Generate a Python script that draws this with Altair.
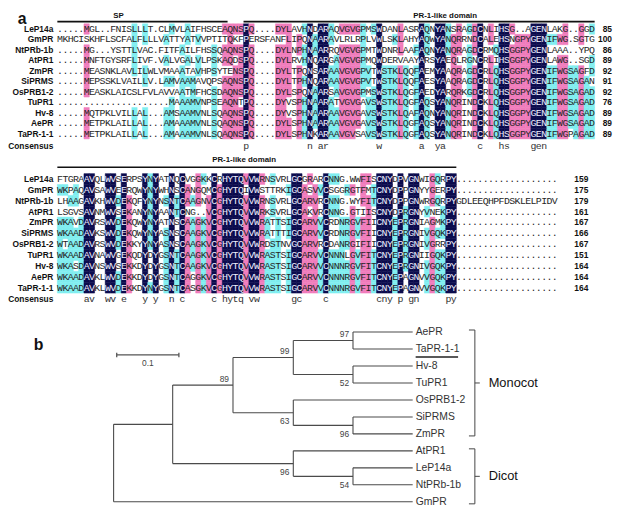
import altair as alt
import pandas as pd
from collections import Counter

# ---------------- data ----------------
seq_names = ["LeP14a", "GmPR", "NtPRb-1b", "AtPR1", "ZmPR", "SiPRMS",
             "OsPRB1-2", "TuPR1", "Hv-8", "AePR", "TaPR-1-1"]

block1_seqs = [
    ".....MGL..FNISLLLT.CLMVLAIFHSCEAQNSPQ....DYLAVHNDARAQVGVGPMSWDANLASRAQNYANSRAGDCNLIHSG..AGENLAKG..GGD",
    "MKHCISKHFLSCFALFLLLVATTYATVVPTITQKFPERSFANFLIPQNAARAVLRLRPLVWLSKLAHYAQWYANQRRNDCALEHSNGPYGENIFWG.SGTG",
    ".....MG...YSTTLVAC.FITFAILFHSSQAQNSPQ....DYLNPHNAARRQVGVGPMTWDNRLAAFAQNYANQRAGDCRMQHSGGPYGENLAAA..YPQ",
    ".....MNFTGYSRFLIVF.VALVGALVLPSKAQDSPQ....DYLRVHNQARGAVGVGPMQWDERVAAYARSYAEQLRGNCRLIHSGGPYGENLAWG..SGD",
    ".....MEASNKLAVLILWLVMAAATAVHPSYTENSPQ....DYLTPQNSARAAVGVGPVTWSTKLQQFAEMYAAQRAGDCRLQHSGGPYGENIFWGSAGFD",
    ".....MEPSSKLVAILLV.LAMVAAMAVQPSAQNSPQ....DYLTPHNQARAAVGVGPVTWSTKLQQFAESYAAQRAGDCRLQHSGGPYGENIFWGSAGAN",
    ".....MEASKLAICSLFVLAVVAATMFHCSDAQNSPQ....DYLSPQNAARSAVGVGPMSWSTKLQGFAEDYARQRKGDCRLQHSGGPYGENIFWGSAGAD",
    ".....................MAAAMVNPSEAQNTPQ....DYVSPHNAARATVGVGAVSWSTKLQGFAQSYANQRINDCKLQHSGGPYGENIFWGSAGAD",
    ".....MQTPKLVILLAL...AMSAAMVNLSQAQNSPQ....DYVSPHNAARAAVGVGAVSWSTKLQAFAQNYANQRINDCKLQHSGGPYGENIFWGSAGAD",
    ".....METPKLAILLAL...AMAAAMVNLSQAQNSPQ....DYLSPHNAARAAVGVGAVSWSTKLQGFAQSYANQRINDCKLQHSGGPYGENIFWGSAGAD",
    ".....METPKLAILLAL...AMAAAMVNLSQAQNSPQ....DYLSPHNKARAAVGVSAVSWSTKLQGFAQSYANQRINDCKLQHSGGPYGENIFWGPAGAD",
]
block1_end = [85, 100, 86, 89, 92, 91, 92, 76, 89, 89, 89]

block2_seqs = [
    "FTGRAAVQLWVSERPSYNYATNQCVGGKKCRHYTQVVWRNSVRLGCGRARCNNG.WWFISCNYDPVGNWIGQRPY",
    "WKPAQAVSAWVEERQWYNYWHNSCANGQMCGHYTQIVWSTTRKIGCASVVCSGGRGTFMTCNYDPPGNYYGERPY",
    "LHAAGAVKHWVDEKQFYNYNSNTCAAGNVCGHYTQVVWRNSVRLGCARVRCNNG.WYFITCNYDPPGNWRGQRPYGDLEEQHPFDSKLELPIDV",
    "LSGVSAVNMWVSEKANYNYAANTCNG..VCGHYTQVVWRKSVRLGCAKVRCNNG.GTIISCNYDPRGNYVNEKPY",
    "WKAVDAVRSWVDEKQWYNYATNSCAAGKVCGHYTQVVWRATTSIGCARVVCRDNRGVFIICNYEPRGNIAGMKPY",
    "WKAADAVKSWVDEKQWYNYASNSCAAGKVCGHYTQVVWRATTTIGCARVVCRDNRGVFIICNYEPRGNIVGQKPY",
    "WTAADAVRSWVDEKKYYNYASNSCAAGKVCGHYTQVVWRDSTNVGCARVRCDANRGIFIICNYEPRGNIVGRRPY",
    "WKAADAVNAWVGEKQDYDYGSNTCAAGKVCGHYTQVVWRASTSIGCARVVCNNNLGVFITCNYEPRGNIIGQKPY",
    "WKASDAVNSWVSEKKDYDYGSNTCAAGKVCGHYTQVVWRASTSIGCARVVCNNNRGVFITCNYEPRGNIVGQKPY",
    "WKAADAVKLWVDEKKDYDYGSNTCAGGKVCGHYTQVVWRASTSIGCARVVCNNNRGVFITCNYEPAGNVVGQKPY",
    "WKAADAVKLWVDEKKDYNYGSNTCASGKVCGHYTQVVWRASTSIGCARVVCNNNRGVFITCNYEPAGNVVGQKPY",
]
block2_end = [159, 175, 179, 161, 167, 166, 167, 151, 164, 164, 164]

block1_domains = ["SP", "PR-1-like domain"]
block1_dom_start = [1, 36]
block1_dom_end = [32, 101]
block2_domains = ["PR-1-like domain"]
block2_dom_start = [1]
block2_dom_end = [75]

leaf_order = ["AePR", "TaPR-1-1", "Hv-8", "TuPR1", "OsPRB1-2", "SiPRMS", "ZmPR",
              "AtPR1", "LeP14a", "NtPRb-1b", "GmPR"]
tree_child = ["A", "GmPR", "B", "H", "C", "F", "D", "E", "AePR", "TaPR-1-1",
              "Hv-8", "TuPR1", "OsPRB1-2", "G", "SiPRMS", "ZmPR", "AtPR1", "I",
              "LeP14a", "NtPRb-1b"]
tree_parent = ["root", "root", "A", "A", "B", "B", "C", "C", "D", "D",
               "E", "E", "F", "F", "G", "G", "H", "H", "I", "I"]
tree_branch = [0.095, 0.481, 0.097, 0.194, 0.097, 0.097, 0.096, 0.096, 0.096, 0.096,
               0.096, 0.096, 0.192, 0.096, 0.096, 0.096, 0.192, 0.096, 0.096, 0.096]
boot_node = ["B", "C", "D", "E", "F", "G", "H", "I"]
boot_value = [89, 99, 97, 52, 63, 96, 96, 54]
highlight_leaf = ["TaPR-1-1"]
clade_name = ["Monocot", "Dicot"]
clade_first = ["AePR", "AtPR1"]
clade_last = ["ZmPR", "GmPR"]
scale_bar_len = 0.1

# ---------------- layout / style ----------------
W = 606
CW = 5.39
COL_X0 = 42.0
XDOM = [0.5 - COL_X0 / CW, 0.5 + (W - COL_X0) / CW]
NAME_X = -0.25
NAVY, PINK, CYAN = "#0c0c4e", "#f07cbc", "#80eef0"
MONO = "Liberation Mono"
SANS = "Liberation Sans"
lvl_scale = alt.Scale(domain=[1, 2, 3], range=[CYAN, PINK, NAVY])


def conservation(seqs):
    n = len(seqs)
    ncol = max(len(s) for s in seqs)
    seqs = [s.ljust(ncol, ".") for s in seqs]
    levels = [[0] * ncol for _ in seqs]
    cons = []
    for c in range(ncol):
        col = [s[c] for s in seqs]
        cnt = Counter(ch for ch in col if ch != ".")
        if not cnt:
            cons.append(" ")
            continue
        res, k = cnt.most_common(1)[0]
        frac = k / n
        lvl = 3 if k == n else (2 if frac >= 0.75 else (1 if frac >= 0.5 else 0))
        for r in range(n):
            if col[r] == res:
                levels[r][c] = lvl
        cons.append(res.lower() if lvl == 3 else " ")
    return seqs, levels, cons


def block_panel(seqs, ends, dnames, dstart, dend, dlabcols, height, top_page,
                row0_page, pitch, num_col, hdr_lab_page, hdr_lab_base,
                hdr_rule_page, cons_page, letter=None):
    def to_row(p):
        return (p - row0_page) / pitch

    xs = alt.Scale(domain=XDOM, nice=False, zero=False)
    ys = alt.Scale(domain=[to_row(top_page), to_row(top_page + height)],
                   nice=False, zero=False, reverse=True)
    seqs, levels, cons = conservation(seqs)
    recs = []
    for r, s in enumerate(seqs):
        for c, ch in enumerate(s):
            recs.append({"row": r, "col": c + 1, "ch": ch, "level": levels[r][c]})
    cells = pd.DataFrame(recs)

    def X(f):
        return alt.X(f, scale=xs, axis=None)

    def Y(f):
        return alt.Y(f, scale=ys, axis=None)

    base = alt.Chart(cells)
    rects = base.transform_filter("datum.level > 0").transform_calculate(
        xa="datum.col - 0.5", xb="datum.col + 0.5",
        ya="datum.row - 0.5", yb="datum.row + 0.5"
    ).mark_rect(strokeWidth=0.5).encode(
        x=X("xa:Q"), x2="xb:Q", y=Y("ya:Q"), y2="yb:Q",
        fill=alt.Fill("level:O", scale=lvl_scale, legend=None),
        stroke=alt.Stroke("level:O", scale=lvl_scale, legend=None),
    )
    letters = base.mark_text(font=MONO, fontSize=10, baseline="middle", align="center").encode(
        x=X("col:Q"), y=Y("row:Q"), text="ch:N",
        color=alt.condition(alt.datum.level == 3, alt.value("#eeeeff"), alt.value("#262626")),
    )

    names_df = pd.DataFrame({"name": seq_names + ["Consensus"],
                             "row": list(range(len(seq_names))) + [to_row(cons_page)],
                             "x": NAME_X})
    names = alt.Chart(names_df).mark_text(font=SANS, fontSize=8.5, fontWeight="bold",
                                          align="right", baseline="middle", color="#111").encode(
        x=X("x:Q"), y=Y("row:Q"), text="name:N")

    nums_df = pd.DataFrame({"n": ends, "row": list(range(len(ends))), "x": num_col})
    nums = alt.Chart(nums_df).mark_text(font=SANS, fontSize=8.5, fontWeight="bold",
                                        align="right", baseline="middle", color="#111").encode(
        x=X("x:Q"), y=Y("row:Q"), text="n:N")

    cons_df = pd.DataFrame({"col": [i + 1 for i, ch in enumerate(cons) if ch != " "],
                            "ch": [ch for ch in cons if ch != " "],
                            "row": to_row(cons_page)})
    cons_txt = alt.Chart(cons_df).mark_text(font=MONO, fontSize=10, baseline="middle",
                                            align="center", color="#333").encode(
        x=X("col:Q"), y=Y("row:Q"), text="ch:N")

    hdr_df = pd.DataFrame({"name": dnames,
                           "xa": [s - 0.5 for s in dstart],
                           "xb": [e + 0.5 for e in dend],
                           "xl": dlabcols,
                           "yr": to_row(hdr_rule_page),
                           "yl": to_row(hdr_lab_page)})
    hdr_rule = alt.Chart(hdr_df).mark_rule(strokeWidth=1.6, color="#111").encode(
        x=X("xa:Q"), x2="xb:Q", y=Y("yr:Q"))
    hdr_lab = alt.Chart(hdr_df).mark_text(font=SANS, fontSize=8, fontWeight="bold",
                                          align="center", baseline=hdr_lab_base, color="#111").encode(
        x=X("xl:Q"), y=Y("yl:Q"), text="name:N")

    layers = [rects, letters, names, nums, cons_txt, hdr_rule, hdr_lab]
    if letter:
        lt = alt.Chart(pd.DataFrame({"t": [letter]})).mark_text(
            font=SANS, fontSize=16, fontWeight="bold", align="left", baseline="top", color="#111"
        ).encode(x=alt.value(2), y=alt.value(0), text="t:N")
        layers.append(lt)
    return alt.layer(*layers).properties(width=W, height=height)


p1 = block_panel(block1_seqs, block1_end, block1_domains, block1_dom_start, block1_dom_end,
                 [12, 73.4], height=144, top_page=8, row0_page=26, pitch=10.6,
                 num_col=0.5 + (604 - COL_X0) / CW, hdr_lab_page=16.8, hdr_lab_base="bottom",
                 hdr_rule_page=18.5, cons_page=145, letter="a")
p2 = block_panel(block2_seqs, block2_end, block2_domains, block2_dom_start, block2_dom_end,
                 [35.6], height=153, top_page=152, row0_page=178, pitch=11.0,
                 num_col=0.5 + (580 - COL_X0) / CW, hdr_lab_page=158.5, hdr_lab_base="middle",
                 hdr_rule_page=166, cons_page=300)

# ---------------- tree ----------------
children = {}
for ch, pa in zip(tree_child, tree_parent):
    children.setdefault(pa, []).append(ch)
blen = dict(zip(tree_child, tree_branch))
parent_of = dict(zip(tree_child, tree_parent))
depth = {}


def set_depth(node, d):
    depth[node] = d
    for c in children.get(node, []):
        set_depth(c, d + blen[c])


set_depth("root", 0.0)
ypos = {leaf: i for i, leaf in enumerate(leaf_order)}


def set_y(node):
    if node in ypos:
        return ypos[node]
    vals = [set_y(c) for c in children[node]]
    ypos[node] = (min(vals) + max(vals)) / 2
    return ypos[node]


set_y("root")

T_TOP, T_H, LEAF0, LPITCH = 305, 205, 333, 17.2
xs3 = alt.Scale(domain=[-99 / 630, (W - 99) / 630], nice=False, zero=False)
ys3 = alt.Scale(domain=[(T_TOP - LEAF0) / LPITCH, (T_TOP + T_H - LEAF0) / LPITCH],
                nice=False, zero=False, reverse=True)


def X3(f):
    return alt.X(f, scale=xs3, axis=None)


def Y3(f):
    return alt.Y(f, scale=ys3, axis=None)


LINE = "#4a4a4a"
hedges = pd.DataFrame({"x1": [depth[parent_of[c]] for c in tree_child],
                       "x2": [depth[c] for c in tree_child],
                       "y": [ypos[c] for c in tree_child]})
h_layer = alt.Chart(hedges).mark_rule(color=LINE, strokeWidth=1.1).encode(
    x=X3("x1:Q"), x2="x2:Q", y=Y3("y:Q"))
internal = list(children.keys())
vedges = pd.DataFrame({"x": [depth[n] for n in internal],
                       "y1": [min(ypos[c] for c in children[n]) for n in internal],
                       "y2": [max(ypos[c] for c in children[n]) for n in internal]})
v_layer = alt.Chart(vedges).mark_rule(color=LINE, strokeWidth=1.1).encode(
    x=X3("x:Q"), y=Y3("y1:Q"), y2="y2:Q")

leaves_df = pd.DataFrame({"name": leaf_order, "x": [depth[l] for l in leaf_order],
                          "y": [ypos[l] for l in leaf_order]})
leaf_layer = alt.Chart(leaves_df).mark_text(font=SANS, fontSize=10.5, align="left",
                                            baseline="middle", dx=3, color="#333").encode(
    x=X3("x:Q"), y=Y3("y:Q"), text="name:N")

ul_df = pd.DataFrame({"x1": [depth[l] + 3 / 630 for l in highlight_leaf],
                      "x2": [depth[l] + 46 / 630 for l in highlight_leaf],
                      "y": [ypos[l] + 0.47 for l in highlight_leaf]})
ul_layer = alt.Chart(ul_df).mark_rule(color="#222", strokeWidth=1.6).encode(
    x=X3("x1:Q"), x2="x2:Q", y=Y3("y:Q"))


def boot_y(n):
    p = parent_of[n]
    sib = [ypos[c] for c in children[p]]
    upper = ypos[n] <= min(sib)
    return ypos[n] + (-0.38 if upper else 0.5)


boot_df = pd.DataFrame({"v": boot_value, "x": [depth[n] for n in boot_node],
                        "y": [boot_y(n) for n in boot_node]})
boot_layer = alt.Chart(boot_df).mark_text(font=SANS, fontSize=8.5, align="right",
                                          baseline="middle", dx=-4, color="#444").encode(
    x=X3("x:Q"), y=Y3("y:Q"), text="v:N")

tip = max(depth[l] for l in leaf_order)
bx = tip + 0.1
cl_y1 = [ypos[a] - 0.12 for a in clade_first]
cl_y2 = [ypos[b] + 0.12 for b in clade_last]
cl_df = pd.DataFrame({"name": clade_name, "x": bx, "xin": bx - 6 / 630, "xout": bx + 5 / 630,
                      "xl": bx + 14 / 630, "y1": cl_y1, "y2": cl_y2,
                      "ym": [(a + b) / 2 for a, b in zip(cl_y1, cl_y2)]})
cl_v = alt.Chart(cl_df).mark_rule(color="#444", strokeWidth=1).encode(
    x=X3("x:Q"), y=Y3("y1:Q"), y2="y2:Q")
cl_t = alt.Chart(cl_df).mark_rule(color="#444", strokeWidth=1).encode(
    x=X3("xin:Q"), x2="x:Q", y=Y3("y1:Q"))
cl_b = alt.Chart(cl_df).mark_rule(color="#444", strokeWidth=1).encode(
    x=X3("xin:Q"), x2="x:Q", y=Y3("y2:Q"))
cl_m = alt.Chart(cl_df).mark_rule(color="#444", strokeWidth=1).encode(
    x=X3("x:Q"), x2="xout:Q", y=Y3("ym:Q"))
cl_l = alt.Chart(cl_df).mark_text(font=SANS, fontSize=13, align="left", baseline="middle",
                                  color="#111").encode(x=X3("xl:Q"), y=Y3("ym:Q"), text="name:N")

sb_x0 = 0.005
sb_df = pd.DataFrame({"x1": [sb_x0], "x2": [sb_x0 + scale_bar_len], "y": [1.35],
                      "ya": [1.35 - 0.13], "yb": [1.35 + 0.13], "yl": [1.82],
                      "xm": [sb_x0 + scale_bar_len / 2], "lab": [str(scale_bar_len)]})
sb_h = alt.Chart(sb_df).mark_rule(color="#555", strokeWidth=1.3).encode(
    x=X3("x1:Q"), x2="x2:Q", y=Y3("y:Q"))
sb_e1 = alt.Chart(sb_df).mark_rule(color="#555", strokeWidth=1.3).encode(
    x=X3("x1:Q"), y=Y3("ya:Q"), y2="yb:Q")
sb_e2 = alt.Chart(sb_df).mark_rule(color="#555", strokeWidth=1.3).encode(
    x=X3("x2:Q"), y=Y3("ya:Q"), y2="yb:Q")
sb_l = alt.Chart(sb_df).mark_text(font=SANS, fontSize=8.5, align="center", baseline="middle",
                                  color="#444").encode(x=X3("xm:Q"), y=Y3("yl:Q"), text="lab:N")

b_lab = alt.Chart(pd.DataFrame({"t": ["b"]})).mark_text(
    font=SANS, fontSize=16, fontWeight="bold", align="left", baseline="top", color="#111"
).encode(x=alt.value(18), y=alt.value(33), text="t:N")

p3 = alt.layer(h_layer, v_layer, leaf_layer, ul_layer, boot_layer, cl_v, cl_t, cl_b, cl_m,
               cl_l, sb_h, sb_e1, sb_e2, sb_l, b_lab).properties(width=W, height=T_H)

chart = alt.vconcat(p1, p2, p3, spacing=0, bounds="flush").properties(
    padding=0, background="white"
).configure_view(stroke=None)

chart.save("out.html", embed_options={"renderer": "svg", "actions": False})
